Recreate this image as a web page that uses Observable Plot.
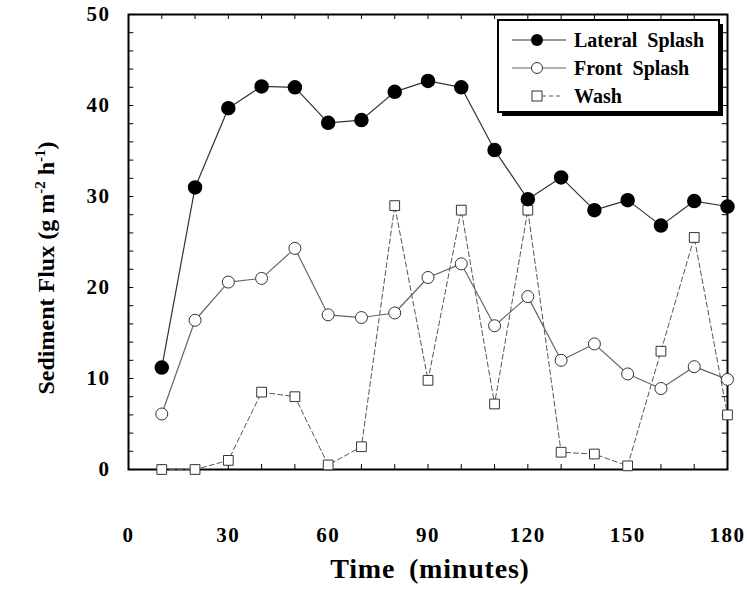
<!DOCTYPE html>
<html><head><meta charset="utf-8">
<script src="https://cdn.jsdelivr.net/npm/d3@7"></script>
<script src="https://cdn.jsdelivr.net/npm/@observablehq/plot@0.6"></script>
<style>body{margin:0;background:#fff}</style>
</head><body><div id="chart"></div>
<script>
const time = [10,20,30,40,50,60,70,80,90,100,110,120,130,140,150,160,170,180];
const lateral = [11.2,31.0,39.7,42.1,42.0,38.1,38.4,41.5,42.7,42.0,35.1,29.7,32.1,28.5,29.6,26.8,29.5,28.9];
const front = [6.1,16.4,20.6,21.0,24.3,17.0,16.7,17.2,21.1,22.6,15.8,19.0,12.0,13.8,10.5,8.9,11.3,9.9];
const wash = [0,0,1,8.5,8,0.5,2.5,29,9.8,28.5,7.2,28.5,1.9,1.7,0.4,13,25.5,6.0];
const seriesNames = ["Lateral Splash","Front Splash","Wash"];
const xTicks = [0,30,60,90,120,150,180];
const yTicks = [0,10,20,30,40,50];
const xMinor = d3.range(0,181,10);
const yMinor = d3.range(0,51,2);

const rows = (vals) => time.map((t,i)=>({t, v: vals[i]}));
const L = rows(lateral), F = rows(front), W = rows(wash);
const FONT = "Liberation Serif, Times New Roman, serif";

const chart = Plot.plot({
  width: 747, height: 590,
  marginLeft: 128, marginRight: 20, marginTop: 14, marginBottom: 121,
  x: {domain:[0,180], axis:null},
  y: {domain:[0,50], axis:null},
  style: {fontFamily: FONT, fontWeight: "bold", fontSize: "20px", background:"#fff"},
  marks: [
    Plot.ruleX(xMinor, {x:d=>d, y1:0, y2:0.55, stroke:"black", strokeWidth:1}),
    Plot.ruleX(xMinor, {x:d=>d, y1:49.45, y2:50, stroke:"black", strokeWidth:1}),
    Plot.ruleY(yMinor, {y:d=>d, x1:0, x2:1.6, stroke:"black", strokeWidth:1}),
    Plot.ruleY(yMinor, {y:d=>d, x1:178.4, x2:180, stroke:"black", strokeWidth:1}),
    Plot.frame({stroke:"black", strokeWidth:2}),
    Plot.line(W, {x:"t", y:"v", stroke:"#555", strokeWidth:1, strokeDasharray:"5,3"}),
    Plot.line(F, {x:"t", y:"v", stroke:"#666", strokeWidth:1.2}),
    Plot.line(L, {x:"t", y:"v", stroke:"#333", strokeWidth:1.2}),
    Plot.dot(W, {x:"t", y:"v", symbol:"square", r:5.5, fill:"white", stroke:"#333", strokeWidth:1}),
    Plot.dot(F, {x:"t", y:"v", r:6, fill:"white", stroke:"#333", strokeWidth:1}),
    Plot.dot(L, {x:"t", y:"v", r:6.5, fill:"black", stroke:"black"}),
    Plot.text(xTicks, {x:d=>d, y:0, dy:66, text:d=>String(d), fontSize:21, fontWeight:"bold", fill:"black"}),
    Plot.text(yTicks, {x:0, y:d=>d, dx:-18, textAnchor:"end", text:d=>String(d), fontSize:21, fontWeight:"bold", fill:"black"})
  ]
});
document.getElementById("chart").appendChild(chart);

const svg = d3.select(chart);
svg.selectAll("text").style("letter-spacing","1.5px");
// Axis titles
svg.append("text").attr("x", 430).attr("y", 578).attr("text-anchor","middle")
  .attr("font-family", FONT).attr("font-weight","bold").attr("font-size", 28)
  .style("word-spacing","6px").style("letter-spacing","0.8px").text("Time (minutes)");
const yt = svg.append("text").attr("transform","translate(54,268) rotate(-90)")
  .attr("text-anchor","middle").attr("font-family", FONT).attr("font-weight","bold")
  .attr("font-size", 24);
yt.append("tspan").text("Sediment Flux (g m");
yt.append("tspan").attr("dy",-9).attr("font-size",15).text("-2");
yt.append("tspan").attr("dy",9).text(" h");
yt.append("tspan").attr("dy",-9).attr("font-size",15).text("-1");
yt.append("tspan").attr("dy",9).text(")");

// Legend
const lg = svg.append("g");
lg.append("rect").attr("x",502).attr("y",24).attr("width",221).attr("height",92).attr("fill","black");
lg.append("rect").attr("x",498).attr("y",20).attr("width",221).attr("height",92).attr("fill","white").attr("stroke","black").attr("stroke-width",2);
const rowsY = [40, 68, 96];
const styles = [
  {stroke:"#333", dash:null, sym:"dotfill"},
  {stroke:"#666", dash:null, sym:"circle"},
  {stroke:"#555", dash:"4,3", sym:"square"}
];
seriesNames.forEach((name,i)=>{
  const y = rowsY[i], s = styles[i];
  if (i < 2) {
    lg.append("line").attr("x1",512).attr("x2",566).attr("y1",y).attr("y2",y)
      .attr("stroke",s.stroke).attr("stroke-width",1.2).attr("stroke-dasharray",s.dash);
  } else {
    lg.append("line").attr("x1",542).attr("x2",560).attr("y1",y).attr("y2",y)
      .attr("stroke",s.stroke).attr("stroke-width",1).attr("stroke-dasharray",s.dash);
  }
  if (s.sym === "dotfill") lg.append("circle").attr("cx",537).attr("cy",y).attr("r",6).attr("fill","black");
  else if (s.sym === "circle") lg.append("circle").attr("cx",537).attr("cy",y).attr("r",5.5).attr("fill","white").attr("stroke","#333");
  else lg.append("rect").attr("x",532).attr("y",y-5).attr("width",10).attr("height",10).attr("fill","white").attr("stroke","#333");
  lg.append("text").attr("x",574).attr("y",y).attr("dy","0.35em").attr("text-anchor","start")
    .attr("font-family",FONT).attr("font-weight","bold").attr("font-size",20)
    .style("word-spacing","5px").text(name);
});
</script>
</body></html>
